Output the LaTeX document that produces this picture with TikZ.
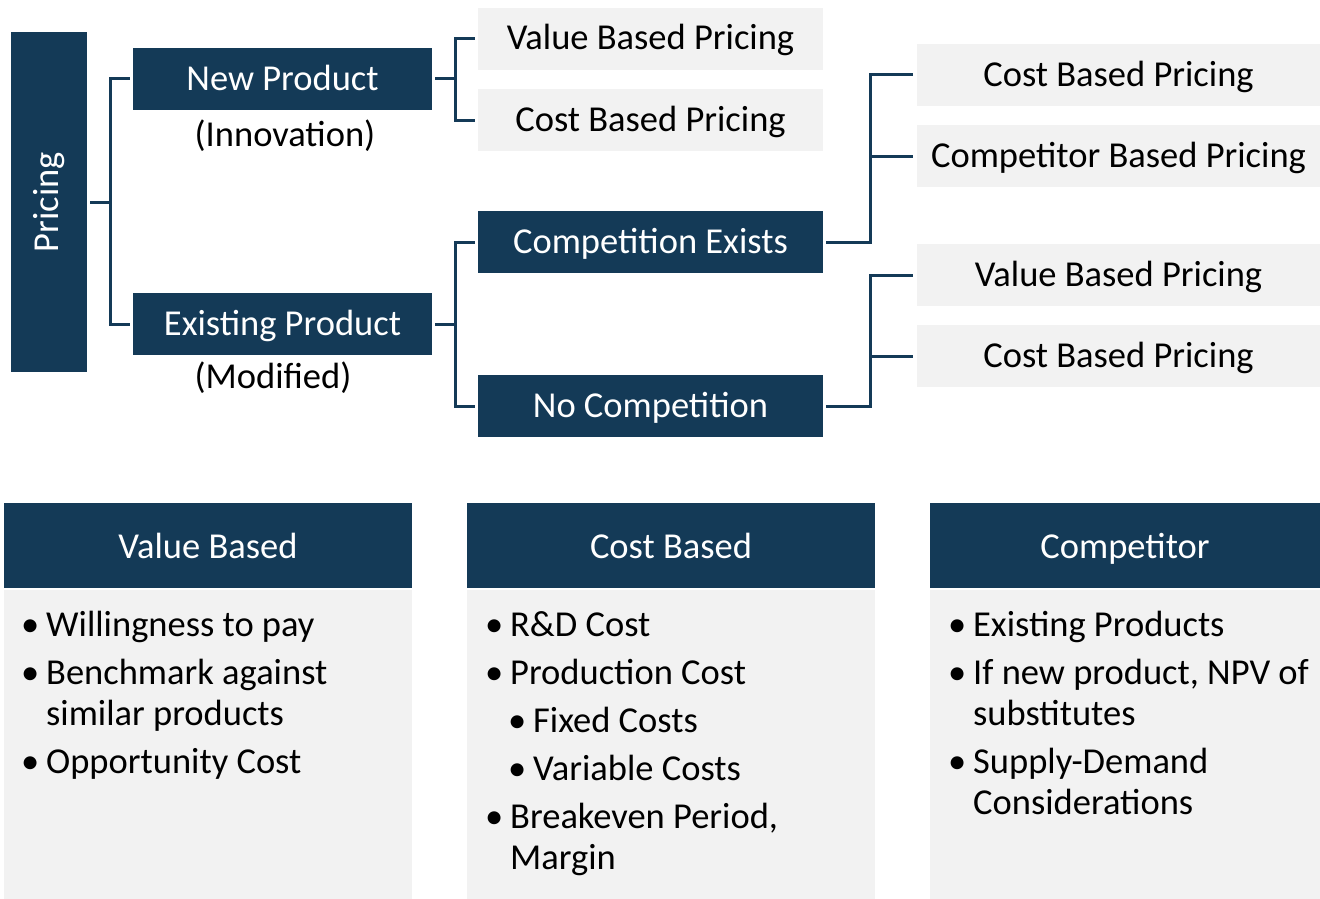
\documentclass[tikz,border=0pt]{standalone}
\usepackage{fontspec}
\setmainfont{Carlito}
\usetikzlibrary{positioning}
\definecolor{navy}{HTML}{143A57}
\definecolor{paleg}{HTML}{F2F2F2}
\tikzset{
darkbox/.style={fill=navy, text=white, inner sep=0pt, minimum height=62,
  text height=28, text depth=6, font=\fontsize{36.5}{42}\selectfont},
lightbox/.style={fill=paleg, text=black, inner sep=0pt, minimum height=62,
  minimum width=345, text height=28, text depth=6, font=\fontsize{36.5}{42}\selectfont},
headbox/.style={fill=navy, text=white, inner sep=0pt, minimum height=85,
  text height=30, text depth=5, font=\fontsize{36.5}{42}\selectfont},
bodybox/.style={fill=paleg, inner sep=0pt, minimum height=309},
note/.style={inner sep=0pt, font=\fontsize{36.5}{42}\selectfont},
item/.style={anchor=base west, inner sep=0pt, font=\fontsize{36.5}{42}\selectfont},
link/.style={draw=navy, line width=3pt}
}
\newcommand{\bul}{\llap{\textbullet\hspace{7pt}}}

\begin{document}
\begin{tikzpicture}[x=1pt, y=-1pt]
\useasboundingbox (0,0) rectangle (1320,899);

\node[darkbox, minimum width=76, minimum height=340, text height=, text depth=] (pricing) at (49,202) {\rotatebox{90}{Pricing}};
\node[darkbox, minimum width=299] (newprod) at (282.5,79) {New Product};
\node[darkbox, minimum width=299] (exprod) at (282.5,324) {Existing Product};
\node[note] (innov) at (285,136) {(Innovation)};
\node[note] (modif) at (273,378) {(Modified)};

\node[lightbox] (vbp) at (650.5,39) {Value Based Pricing};
\node[lightbox] (cbp) at (650.5,120) {Cost Based Pricing};
\node[darkbox, minimum width=345] (compex) at (650.5,242) {Competition Exists};
\node[darkbox, minimum width=345] (nocomp) at (650.5,406) {No Competition};

\node[lightbox, minimum width=403] (rcost) at (1118.5,75) {Cost Based Pricing};
\node[lightbox, minimum width=403] (rcomp) at (1118.5,156) {Competitor Based Pricing};
\node[lightbox, minimum width=403] (rvalue) at (1118.5,275) {Value Based Pricing};
\node[lightbox, minimum width=403] (rcost2) at (1118.5,356) {Cost Based Pricing};

\draw[link] ([xshift=3]pricing.east) -- ++(20,0) |- ([xshift=-3]newprod.west);
\draw[link] ([xshift=3]pricing.east) -- ++(20,0) |- ([xshift=-3]exprod.west);
\draw[link] ([xshift=3]newprod.east) -- ++(20,0) |- ([xshift=-3]vbp.west);
\draw[link] ([xshift=3]newprod.east) -- ++(20,0) |- ([xshift=-3]cbp.west);
\draw[link] ([xshift=3]exprod.east) -- ++(20,0) |- ([xshift=-3]compex.west);
\draw[link] ([xshift=3]exprod.east) -- ++(20,0) |- ([xshift=-3]nocomp.west);
\draw[link] ([xshift=3]compex.east) -- ++(44,0) |- ([xshift=-4]rcost.west);
\draw[link] ([xshift=3]compex.east) -- ++(44,0) |- ([xshift=-4]rcomp.west);
\draw[link] ([xshift=3]nocomp.east) -- ++(44,0) |- ([xshift=-4]rvalue.west);
\draw[link] ([xshift=3]nocomp.east) -- ++(44,0) |- ([xshift=-4]rcost2.west);

\node[headbox, minimum width=408] (vbhead) at (208,545.5) {Value Based};
\node[headbox, minimum width=408] (cbhead) at (671,545.5) {Cost Based};
\node[headbox, minimum width=390] (cohead) at (1125,545.5) {Competitor};
\node[bodybox, minimum width=408] (vbbody) at (208,744.5) {};
\node[bodybox, minimum width=408] (cbbody) at (671,744.5) {};
\node[bodybox, minimum width=390] (cobody) at (1125,744.5) {};

\node[item] (vb1) at (46,636) {\bul Willingness to pay};
\node[item] (vb2) at (46,684) {\bul Benchmark against};
\node[item] (vb3) at (46,725) {similar products};
\node[item] (vb4) at (46,773) {\bul Opportunity Cost};

\node[item] (cb1) at (510,636) {\bul R\&D Cost};
\node[item] (cb2) at (510,684) {\bul Production Cost};
\node[item] (cb3) at (533,732) {\bul Fixed Costs};
\node[item] (cb4) at (533,780) {\bul Variable Costs};
\node[item] (cb5) at (510,828) {\bul Breakeven Period,};
\node[item] (cb6) at (510,869) {Margin};

\node[item] (co1) at (973,636) {\bul Existing Products};
\node[item] (co2) at (973,684) {\bul If new product, NPV of};
\node[item] (co3) at (973,725) {substitutes};
\node[item] (co4) at (973,773) {\bul Supply-Demand};
\node[item] (co5) at (973,814) {Considerations};
\end{tikzpicture}
\end{document}
